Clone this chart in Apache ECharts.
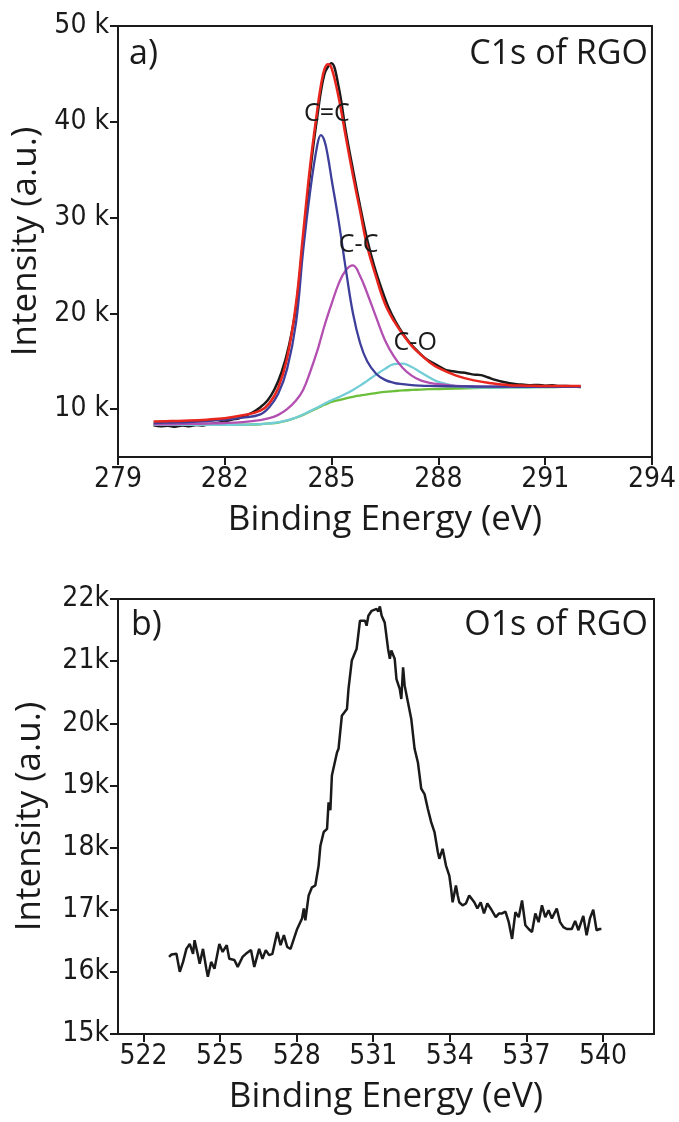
<!DOCTYPE html>
<html><head><meta charset="utf-8">
<script src="https://cdn.jsdelivr.net/npm/echarts@6/dist/echarts.min.js"></script>
<style>html,body{margin:0;padding:0;background:#fff}#c{width:679px;height:1122px}</style>
</head><body><div id="c"></div>
<script>
// ---- Panel a) C1s of RGO (intensity in thousands of counts) ----
const c1sFitEnergy = [280.0, 280.5, 281.0, 281.5, 282.0, 282.5, 283.0, 283.25, 283.5, 283.75, 284.0, 284.2, 284.4, 284.6, 284.7, 284.8, 284.9, 285.0, 285.2, 285.4, 285.6, 285.8, 286.0, 286.25, 286.5, 286.75, 287.0, 287.25, 287.5, 287.75, 288.0, 288.5, 289.0, 289.5, 290.0, 290.5, 291.0, 291.5, 292.0];
const c1sBackground = [8.35, 8.35, 8.35, 8.35, 8.35, 8.37, 8.42, 8.5, 8.6, 8.8, 9.1, 9.4, 9.75, 10.1, 10.28, 10.45, 10.6, 10.75, 10.95, 11.12, 11.28, 11.42, 11.55, 11.68, 11.8, 11.88, 11.95, 12.0, 12.04, 12.08, 12.1, 12.15, 12.2, 12.23, 12.26, 12.28, 12.3, 12.32, 12.33];
const c1sCO = [8.35, 8.35, 8.35, 8.35, 8.35, 8.37, 8.43, 8.52, 8.62, 8.82, 9.12, 9.43, 9.8, 10.17, 10.36, 10.56, 10.74, 10.92, 11.25, 11.6, 12.0, 12.45, 12.95, 13.6, 14.2, 14.7, 14.75, 14.4, 13.85, 13.3, 12.85, 12.4, 12.25, 12.25, 12.26, 12.28, 12.3, 12.32, 12.33];
const c1sCsingleC = [8.4, 8.42, 8.45, 8.5, 8.55, 8.65, 8.85, 9.05, 9.4, 10.0, 10.9, 12.0, 13.9, 16.1, 17.4, 18.7, 19.9, 21.0, 23.1, 24.5, 25.0, 23.9, 22.1, 19.6, 17.2, 15.5, 14.3, 13.5, 13.0, 12.75, 12.6, 12.42, 12.36, 12.34, 12.33, 12.33, 12.33, 12.33, 12.33];
const c1sCdoubleC = [8.55, 8.6, 8.65, 8.75, 8.9, 9.1, 9.45, 10.2, 11.6, 14.2, 19.0, 26.5, 32.8, 37.6, 38.6, 38.0, 36.3, 34.0, 29.6, 24.6, 20.0, 16.9, 15.0, 13.7, 13.05, 12.75, 12.6, 12.5, 12.45, 12.42, 12.4, 12.38, 12.36, 12.35, 12.34, 12.33, 12.33, 12.33, 12.33];
const c1sEnvelope = [8.7, 8.75, 8.8, 8.9, 9.05, 9.35, 9.85, 10.6, 12.2, 15.3, 21.0, 28.3, 35.5, 41.3, 43.8, 45.5, 46.0, 45.6, 42.5, 38.4, 34.4, 30.7, 27.0, 23.8, 21.0, 19.2, 17.8, 16.6, 15.7, 14.9, 14.3, 13.5, 13.0, 12.7, 12.5, 12.45, 12.4, 12.4, 12.4];
const c1sRawEnergy = [280.0, 280.2, 280.4, 280.6, 280.8, 281.0, 281.2, 281.4, 281.6, 281.8, 282.0, 282.2, 282.4, 282.6, 282.8, 283.0, 283.2, 283.4, 283.6, 283.8, 284.0, 284.2, 284.4, 284.6, 284.8, 285.0, 285.2, 285.4, 285.6, 285.8, 286.0, 286.2, 286.4, 286.6, 286.8, 287.0, 287.2, 287.4, 287.6, 287.8, 288.0, 288.2, 288.4, 288.6, 288.8, 289.0, 289.2, 289.4, 289.6, 289.8, 290.0, 290.2, 290.4, 290.6, 290.8, 291.0, 291.2, 291.4, 291.6, 291.8, 292.0];
const c1sRaw = [8.3, 8.2, 8.25, 8.15, 8.3, 8.2, 8.35, 8.3, 8.45, 8.55, 8.7, 8.9, 9.05, 9.35, 9.7, 10.2, 10.9, 12.1, 13.9, 16.6, 20.6, 27.5, 34.8, 40.6, 45.0, 46.1, 43.6, 39.0, 35.0, 31.2, 27.7, 24.9, 22.6, 20.6, 19.1, 17.9, 16.9, 16.1, 15.4, 14.9, 14.5, 14.1, 13.95, 13.85, 13.75, 13.6, 13.55, 13.3, 13.05, 12.85, 12.7, 12.6, 12.55, 12.5, 12.52, 12.45, 12.48, 12.4, 12.42, 12.35, 12.3];
const c1sYTicks = [10, 20, 30, 40, 50];
const c1sPeakNames = ['C=C', 'C-C', 'C-O'];
const c1sPeakLabelAt = [[284.87, 40.8], [285.76, 27.1], [287.35, 16.9]];

// ---- Panel b) O1s of RGO ----
const o1sEnergy = [523.0, 523.1, 523.29, 523.42, 523.55, 523.68, 523.81, 523.94, 524.0, 524.13, 524.2, 524.33, 524.46, 524.52, 524.65, 524.78, 524.97, 525.1, 525.26, 525.36, 525.56, 525.69, 525.88, 526.01, 526.21, 526.34, 526.53, 526.66, 526.79, 526.92, 527.05, 527.24, 527.37, 527.5, 527.63, 527.76, 527.89, 528.02, 528.21, 528.28, 528.34, 528.47, 528.6, 528.73, 528.86, 528.93, 529.06, 529.19, 529.25, 529.32, 529.38, 529.58, 529.64, 529.77, 529.97, 530.03, 530.16, 530.35, 530.48, 530.68, 530.74, 530.81, 530.94, 531.13, 531.2, 531.26, 531.33, 531.45, 531.58, 531.65, 531.71, 531.84, 531.91, 532.04, 532.1, 532.17, 532.23, 532.36, 532.49, 532.62, 532.75, 532.88, 533.01, 533.14, 533.27, 533.4, 533.53, 533.59, 533.72, 533.85, 533.98, 534.05, 534.11, 534.24, 534.31, 534.37, 534.5, 534.63, 534.76, 534.96, 535.08, 535.21, 535.34, 535.47, 535.6, 535.8, 535.93, 536.05, 536.18, 536.31, 536.44, 536.57, 536.7, 536.83, 536.96, 537.09, 537.22, 537.35, 537.48, 537.61, 537.74, 537.87, 538.0, 538.19, 538.32, 538.45, 538.58, 538.78, 538.91, 539.04, 539.23, 539.36, 539.49, 539.62, 539.75, 539.87, 539.94];
const o1sIntensity = [16.24, 16.28, 16.29, 16.0, 16.16, 16.37, 16.45, 16.29, 16.51, 16.27, 16.13, 16.37, 16.05, 15.92, 16.16, 16.05, 16.45, 16.32, 16.43, 16.21, 16.19, 16.08, 16.24, 16.29, 16.35, 16.08, 16.37, 16.21, 16.35, 16.27, 16.29, 16.64, 16.43, 16.59, 16.40, 16.37, 16.53, 16.69, 16.86, 17.02, 16.83, 17.23, 17.36, 17.39, 17.71, 18.03, 18.25, 18.30, 18.73, 18.60, 19.16, 19.53, 19.59, 20.12, 20.23, 20.55, 21.01, 21.20, 21.65, 21.65, 21.57, 21.73, 21.81, 21.84, 21.80, 21.88, 21.73, 21.62, 21.20, 21.04, 21.17, 21.04, 20.71, 20.55, 20.39, 20.90, 20.61, 20.34, 20.07, 19.59, 19.37, 18.95, 18.86, 18.62, 18.41, 18.25, 17.93, 17.82, 17.98, 17.71, 17.55, 17.34, 17.12, 17.39, 17.23, 17.12, 17.07, 17.10, 17.23, 17.12, 17.02, 17.12, 16.94, 17.10, 17.02, 16.88, 16.94, 16.94, 16.97, 16.80, 16.53, 16.96, 16.88, 17.15, 16.75, 16.69, 16.64, 16.94, 16.80, 17.07, 16.88, 16.99, 16.86, 17.02, 16.80, 16.72, 16.69, 16.69, 16.82, 16.67, 16.90, 16.59, 16.86, 17.00, 16.67, 16.69, 16.69];
const o1sXTicks = [522, 525, 528, 531, 534, 537, 540];

const pair = (xs, ys) => xs.map((x, i) => [x, ys[i]]);
const TICK_FONT = "'Liberation Sans Narrow', 'Arial Narrow', 'DejaVu Sans Condensed', 'Liberation Sans', sans-serif";
const TITLE_FONT = "'Open Sans', 'Noto Sans', sans-serif";
const AX = {lineStyle: {color: '#1a1a1a', width: 2}};
const TK = {inside: false, length: 8, lineStyle: {color: '#1a1a1a', width: 2}};

const chart = echarts.init(document.getElementById('c'), null, {renderer: 'canvas'});
const grids = [
  {left: 118, top: 26, width: 536, height: 431},
  {left: 118, top: 599, width: 536, height: 435}
];
const line = (name, xi, data, color, width, smooth, z) => ({
  name, type: 'line', xAxisIndex: xi, yAxisIndex: xi, data, showSymbol: false, symbol: 'none',
  smooth, lineStyle: {color, width}, z, animation: false
});
const tickLabel = extra => Object.assign({fontFamily: TICK_FONT, fontSize: 28, color: '#1a1a1a', margin: 9}, extra);
const axisName = {fontFamily: TITLE_FONT, fontSize: 35, color: '#1a1a1a'};
chart.setOption({
  animation: false,
  backgroundColor: '#fff',
  grid: grids.map(g => Object.assign({show: true, borderColor: '#1a1a1a', borderWidth: 2, containLabel: false}, g)),
  xAxis: [
    {gridIndex: 0, type: 'value', min: 279, max: 294, interval: 3, axisLine: AX, axisTick: TK,
     splitLine: {show: false}, axisLabel: tickLabel({}),
     name: 'Binding Energy (eV)', nameLocation: 'middle', nameGap: 46, nameTextStyle: axisName},
    {gridIndex: 1, type: 'value', min: 521, max: 542, axisLine: AX,
     axisTick: Object.assign({customValues: o1sXTicks}, TK),
     splitLine: {show: false}, axisLabel: tickLabel({customValues: o1sXTicks}),
     name: 'Binding Energy (eV)', nameLocation: 'middle', nameGap: 46, nameTextStyle: axisName}
  ],
  yAxis: [
    {gridIndex: 0, type: 'value', min: 5, max: 50, axisLine: AX,
     axisTick: Object.assign({customValues: c1sYTicks}, TK),
     splitLine: {show: false},
     axisLabel: tickLabel({customValues: c1sYTicks, formatter: v => v + ' k'}),
     name: 'Intensity (a.u.)', nameLocation: 'middle', nameGap: 70, nameRotate: 90, nameTextStyle: axisName},
    {gridIndex: 1, type: 'value', min: 15, max: 22, interval: 1, axisLine: AX, axisTick: TK,
     splitLine: {show: false},
     axisLabel: tickLabel({formatter: v => v + 'k'}),
     name: 'Intensity (a.u.)', nameLocation: 'middle', nameGap: 70, nameRotate: 90, nameTextStyle: axisName}
  ],
  series: [
    line('C1s data', 0, pair(c1sRawEnergy, c1sRaw), '#1a1a1a', 2.5, 0.35, 1),
    line('Background', 0, pair(c1sFitEnergy, c1sBackground), '#6bbf3a', 2.3, 0.4, 2),
    line('C-O', 0, pair(c1sFitEnergy, c1sCO), '#72cdd6', 2.3, 0.4, 3),
    line('C-C', 0, pair(c1sFitEnergy, c1sCsingleC), '#b24fb1', 2.3, 0.4, 4),
    line('C=C', 0, pair(c1sFitEnergy, c1sCdoubleC), '#3d3f9a', 2.3, 0.4, 5),
    line('Envelope', 0, pair(c1sFitEnergy, c1sEnvelope), '#e8261e', 2.5, 0.4, 6),
    line('O1s data', 1, pair(o1sEnergy, o1sIntensity), '#1a1a1a', 2.5, false, 2)
  ]
});

const texts = [];
c1sPeakNames.forEach((n, i) => {
  const p = chart.convertToPixel({gridIndex: 0}, c1sPeakLabelAt[i]);
  texts.push({type: 'text', x: p[0], y: p[1], style: {text: n, font: "25px 'Open Sans', sans-serif", fill: '#1a1a1a', align: 'center', verticalAlign: 'middle'}, z: 10});
});
const panelText = (t, x, y, align) => ({type: 'text', x, y, style: {text: t, font: "34px 'Open Sans', sans-serif", fill: '#1a1a1a', align, verticalAlign: 'top'}, z: 10});
texts.push(panelText('a)', 129, 37, 'left'));
texts.push(panelText('C1s of RGO', 648, 37, 'right'));
texts.push(panelText('b)', 131, 608, 'left'));
texts.push(panelText('O1s of RGO', 648, 608, 'right'));
chart.setOption({graphic: texts});
</script>
</body></html>
